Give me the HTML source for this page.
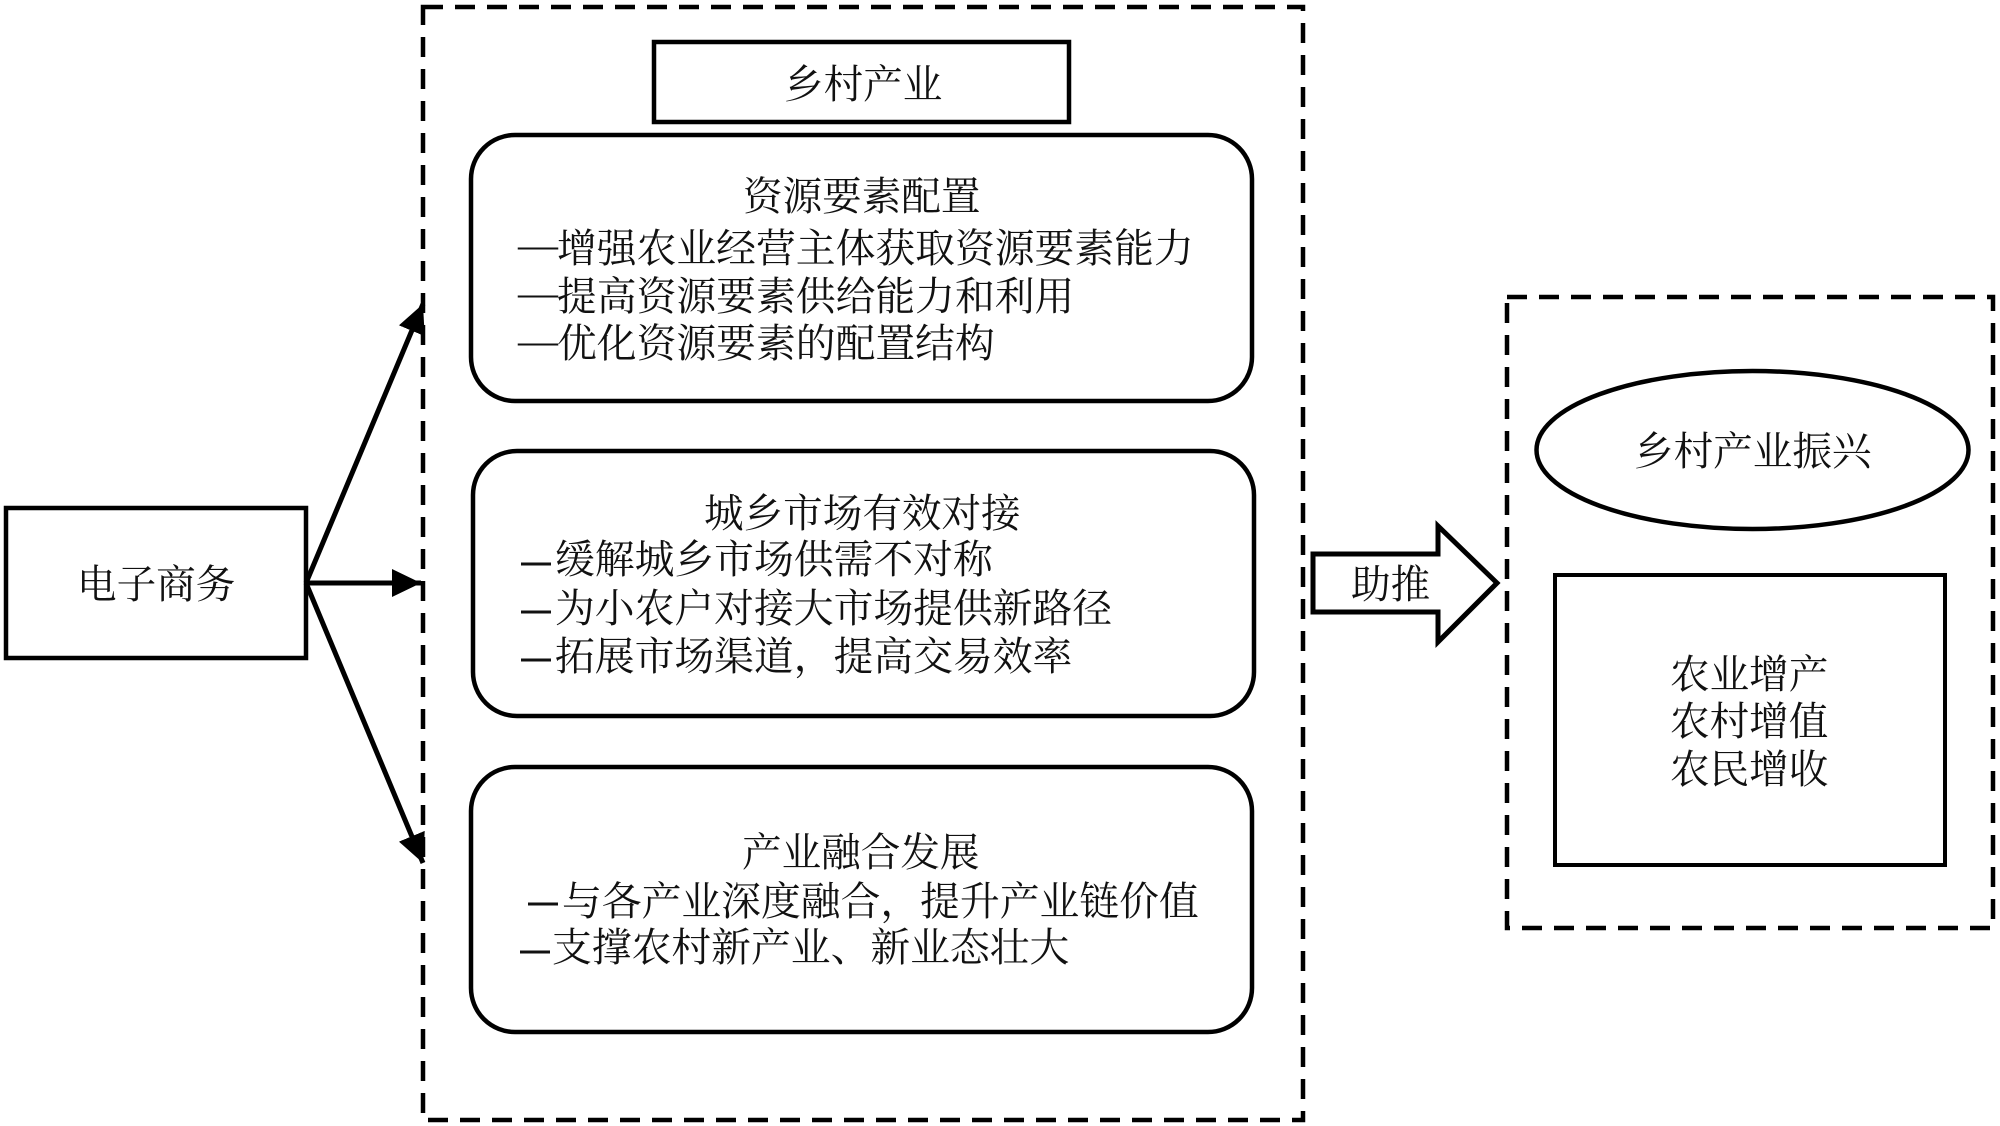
<!DOCTYPE html>
<html><head><meta charset="utf-8"><style>
html,body{margin:0;padding:0;background:#fff;width:2000px;height:1126px;overflow:hidden}
svg{display:block}
text{font-family:"Liberation Serif","Noto Serif CJK SC",serif;font-size:39.6px;fill:#111}
.l{font-size:39.8px}
.d{font-family:"Liberation Sans",sans-serif;font-weight:bold;font-size:30px}
.e{font-family:"Liberation Serif",serif;font-size:40px}
</style></head><body>
<svg width="2000" height="1126" viewBox="0 0 2000 1126" xmlns="http://www.w3.org/2000/svg">
<defs><marker id="a" markerUnits="userSpaceOnUse" markerWidth="32" markerHeight="30" refX="29" refY="15" orient="auto"><path d="M0 1 L29 15 L0 29 Z" fill="#000"/></marker></defs>
<g fill="none" stroke="#000" stroke-width="4">
<rect x="423" y="7" width="880" height="1113" stroke-dasharray="20 12" stroke-width="4.5" />
<rect x="1507" y="297" width="486" height="631" stroke-dasharray="20 12" stroke-width="4.5"/>
<rect x="6" y="508" width="300" height="150" stroke-width="4.5"/>
<rect x="654" y="42" width="415" height="80" stroke-width="4.5"/>
<rect x="471" y="135" width="781" height="266" rx="44" ry="44" stroke-width="4.5"/>
<rect x="473" y="451" width="781" height="265" rx="44" ry="44" stroke-width="4.5"/>
<rect x="471" y="767" width="781" height="265" rx="44" ry="44" stroke-width="4.5"/>
<ellipse cx="1752.5" cy="450" rx="216" ry="79" stroke-width="4.5"/>
<rect x="1555" y="575" width="390" height="290"/>
<path d="M1313 554 H1438 V526 L1497 583 L1438 642 V612 H1313 Z" stroke-width="5"/>
<path d="M306 583 L423 304" stroke-width="5" marker-end="url(#a)"/>
<path d="M306 583 L421 583" stroke-width="5" marker-end="url(#a)"/>
<path d="M306 583 L423 863" stroke-width="5" marker-end="url(#a)"/>
</g>
<text x="77" y="598">电子商务</text>
<text x="784" y="98">乡村产业</text>
<text x="743" y="210">资源要素配置</text>
<text class="e" x="518" y="258">—</text><text class="l" x="557" y="262">增强农业经营主体获取资源要素能力</text>
<text class="e" x="518" y="306">—</text><text class="l" x="557" y="310">提高资源要素供给能力和利用</text>
<text class="e" x="518" y="354">—</text><text class="l" x="557" y="357">优化资源要素的配置结构</text>
<text x="704" y="527">城乡市场有效对接</text>
<text class="d" x="521" y="572">—</text><text class="l" x="555" y="573">缓解城乡市场供需不对称</text>
<text class="d" x="521" y="620">—</text><text class="l" x="555" y="622">为小农户对接大市场提供新路径</text>
<text class="d" x="521" y="668">—</text><text class="l" x="555" y="670">拓展市场渠道，提高交易效率</text>
<text x="742" y="866">产业融合发展</text>
<text class="d" x="528" y="912">—</text><text class="l" x="562" y="915">与各产业深度融合，提升产业链价值</text>
<text class="d" x="520" y="960">—</text><text class="l" x="552" y="961">支撑农村新产业、新业态壮大</text>
<text x="1634" y="465">乡村产业振兴</text>
<text x="1351" y="598">助推</text>
<text x="1670" y="688">农业增产</text>
<text x="1670" y="735">农村增值</text>
<text x="1670" y="783">农民增收</text>
</svg>
</body></html>
